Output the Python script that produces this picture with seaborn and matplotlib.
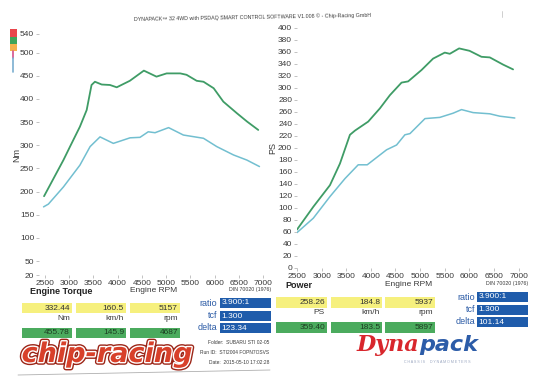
import matplotlib
matplotlib.use("Agg")
import matplotlib.pyplot as plt
import matplotlib.patheffects as pe
from matplotlib.patches import Rectangle
import seaborn as sns
import pandas as pd

# ---------------- data ----------------
torque_run2_rpm = [2480, 2880, 3016, 3220, 3360, 3460, 3530, 3670, 3840, 3980, 4250, 4540,
                   4800, 5010, 5290, 5420, 5630, 5770, 5980, 6180, 6460, 6670, 6900]
torque_run2_nm = [190, 268, 297, 340, 376, 430, 437, 431, 430, 425, 439, 461,
                  448, 455, 455, 452, 439, 437, 423, 394, 369, 351, 333]
torque_run1_rpm = [2470, 2570, 2880, 3220, 3430, 3635, 3910, 4255, 4460, 4630, 4770, 5050,
                   5355, 5770, 6045, 6390, 6665, 6925]
torque_run1_nm = [167, 173, 210, 257, 297, 318, 304, 316, 317, 329, 327, 338,
                  322, 315, 297, 279, 268, 254]

power_run2_rpm = [2500, 2831, 3169, 3372, 3575, 3677, 3946, 4183, 4386, 4623, 4757, 5029,
                  5264, 5501, 5603, 5792, 6003, 6246, 6415, 6685, 6888]
power_run2_ps = [64, 102, 138, 174, 222, 229, 244, 266, 288, 309, 311, 330,
                 349, 359, 357, 366, 362, 352, 351, 339, 331]
power_run1_rpm = [2500, 2831, 3169, 3474, 3743, 3926, 4319, 4522, 4691, 4794, 5099, 5400,
                  5670, 5841, 6076, 6415, 6618, 6923]
power_run1_ps = [59, 83, 119, 149, 172, 172, 197, 205, 222, 224, 249, 251,
                 258, 264, 259, 257, 253, 250]

rpm_ticks = [2500, 3000, 3500, 4000, 4500, 5000, 5500, 6000, 6500, 7000]
torque_ticks = [20, 50, 100, 150, 200, 250, 300, 350, 400, 450, 500, 540]
power_ticks = list(range(0, 401, 20))

title_text = "DYNAPACK\u2122 32 4WD with PSDAQ SMART CONTROL SOFTWARE V1.008 \u00a9 - Chip-Racing GmbH"
torque_peak1 = ["332.44", "160.5", "5157"]
torque_peak2 = ["455.78", "145.9", "4687"]
torque_units = ["Nm", "km/h", "rpm"]
power_peak1 = ["258.26", "184.8", "5937"]
power_peak2 = ["359.40", "183.5", "5897"]
power_units = ["PS", "km/h", "rpm"]
torque_params = [("ratio", "3.900:1"), ("tcf", "1.300"), ("delta", "123.34")]
power_params = [("ratio", "3.900:1"), ("tcf", "1.300"), ("delta", "101.14")]
run_info = ["Folder:  SUBARU STI 02-05", "Run ID:  STI2004 FOPN7OSVS", "Date:  2015-05-10 17:02:28"]

# ---------------- style ----------------
sns.set_theme(style="white")
plt.rcParams["font.family"] = ["Liberation Sans", "DejaVu Sans"]

GREEN = "#3f9c66"
TEAL = "#72bfd0"
YELLOW = "#f6f07e"
BOXGREEN = "#4bab5e"
BLUE = "#1f5cab"
TXT = "#3a3a3a"

W, H = 543, 384
fig = plt.figure(figsize=(W / 100, H / 100), dpi=100)
fig.patch.set_facecolor("white")

# overlay in pixel coordinates for the printed sheet decorations
ov = fig.add_axes([0, 0, 1, 1])
ov.set_xlim(0, W)
ov.set_ylim(H, 0)
ov.axis("off")
ov.patch.set_alpha(0)


def px_axes(x0, x1, y0, y1):
    return fig.add_axes([x0 / W, 1 - y1 / H, (x1 - x0) / W, (y1 - y0) / H])


def style_axes(ax, yticks, ylabel, labx):
    ax.set_facecolor("none")
    for s in ax.spines.values():
        s.set_visible(False)
    ax.set_xticks(rpm_ticks)
    ax.set_yticks(yticks)
    ax.tick_params(axis="both", labelsize=6, colors="#aaaaaa", labelcolor=TXT,
                   length=2.5, width=0.5, pad=1, left=True, bottom=True)
    ax.set_xlabel("")
    ax.set_ylabel(ylabel, fontsize=6.5, color=TXT)
    ax.yaxis.set_label_coords(labx, 0.5)
    ax.grid(False)


# ---- torque chart ----
axT = px_axes(39, 266, 34, 275)
dT2 = pd.DataFrame({"rpm": torque_run2_rpm, "val": torque_run2_nm})
dT1 = pd.DataFrame({"rpm": torque_run1_rpm, "val": torque_run1_nm})
sns.lineplot(data=dT2, x="rpm", y="val", ax=axT, color=GREEN, linewidth=1.3, estimator=None)
sns.lineplot(data=dT1, x="rpm", y="val", ax=axT, color=TEAL, linewidth=1.1, estimator=None)
axT.set_xlim(2376, 7060)
axT.set_ylim(20, 540)
style_axes(axT, torque_ticks, "Nm", -0.078)

# ---- power chart ----
axP = px_axes(297, 525, 28, 268)
dP2 = pd.DataFrame({"rpm": power_run2_rpm, "val": power_run2_ps})
dP1 = pd.DataFrame({"rpm": power_run1_rpm, "val": power_run1_ps})
sns.lineplot(data=dP2, x="rpm", y="val", ax=axP, color=GREEN, linewidth=1.3, estimator=None)
sns.lineplot(data=dP1, x="rpm", y="val", ax=axP, color=TEAL, linewidth=1.1, estimator=None)
axP.set_xlim(2500, 7130)
axP.set_ylim(0, 400)
style_axes(axP, power_ticks, "PS", -0.088)

# ---- header ----
ov.text(252, 17, title_text, fontsize=3.8, color=TXT, ha="center", va="center", rotation=1)
for (y0, y1, c) in [(29, 37, "#e9464c"), (37, 44, "#3fa55a"), (44, 51, "#f4b24c")]:
    ov.add_patch(Rectangle((10, y0), 6.5, y1 - y0, color=c, lw=0))
ov.plot([12.5, 12.5], [51, 58], color="#d44f8a", lw=1.2)
ov.plot([12.5, 12.5], [58, 72], color="#7aaed0", lw=1.2)
ov.plot([502, 502], [11, 17], color="#c8c8c8", lw=0.6)

# ---- panel captions ----
ov.text(30, 292, "Engine Torque", fontsize=6.5, fontweight="bold", color="#222222", va="center")
ov.text(154, 290, "Engine RPM", fontsize=6, color=TXT, ha="center", va="center")
ov.text(271, 289, "DIN 70020 (1976)", fontsize=3.8, color=TXT, ha="right", va="center")
ov.text(285, 286, "Power", fontsize=6.5, fontweight="bold", color="#222222", va="center")
ov.text(409, 284, "Engine RPM", fontsize=6, color=TXT, ha="center", va="center")
ov.text(528, 283, "DIN 70020 (1976)", fontsize=3.8, color=TXT, ha="right", va="center")


def value_block(xs, row1, units, row2, y_top, y_unit, y_bot, h):
    for (x0, x1), v1, u, v2 in zip(xs, row1, units, row2):
        ov.add_patch(Rectangle((x0, y_top), x1 - x0, h, color=YELLOW, lw=0))
        ov.text(x1 - 2, y_top + h / 2, v1, fontsize=6, color="#333333", ha="right", va="center")
        ov.text(x1 - 2, y_unit, u, fontsize=6, color=TXT, ha="right", va="center")
        ov.add_patch(Rectangle((x0, y_bot), x1 - x0, h, color=BOXGREEN, lw=0))
        ov.text(x1 - 2, y_bot + h / 2, v2, fontsize=6, color="#1d3d22", ha="right", va="center")


def param_block(xlab, x0, x1, ys, params, h):
    for y, (lab, val) in zip(ys, params):
        ov.text(xlab, y + h / 2, lab, fontsize=6.5, color="#2a5aa5", ha="right", va="center")
        ov.add_patch(Rectangle((x0, y), x1 - x0, h, color=BLUE, lw=0))
        ov.text(x0 + 1.5, y + h / 2, val, fontsize=6, color="white", ha="left", va="center")


value_block([(22, 72), (76, 126), (130, 180)], torque_peak1, torque_units, torque_peak2,
            303, 319, 328, 10)
param_block(217, 220, 271, [298, 311, 323], torque_params, 10)
value_block([(276, 327), (331, 382), (385, 435)], power_peak1, power_units, power_peak2,
            297, 313, 322, 10.5)
param_block(475, 477, 528, [292, 304.5, 317], power_params, 10)

for y, t in zip([342, 352.5, 363], run_info):
    ov.text(269, y, t, fontsize=3.5, color=TXT, ha="right", va="center")

# ---- logos ----
ov.text(107, 355, "chip-racing", fontsize=19.5, fontweight="bold", fontstyle="italic",
        family="DejaVu Sans", color="#d8402a", ha="center", va="center",
        path_effects=[pe.Stroke(linewidth=4, foreground="#9c2618"),
                      pe.Stroke(linewidth=2, foreground="white"), pe.Normal()])
ov.plot([18, 270], [375, 370], color="#b0b0b0", lw=0.6)
ov.text(419, 351, "Dyna", fontsize=16, fontweight="bold", fontstyle="italic",
        family="DejaVu Serif", color="#d8262c", ha="right", va="baseline")
ov.text(419, 351, "pack", fontsize=16, fontweight="bold", fontstyle="italic",
        family="DejaVu Sans", color="#2c5ca8", ha="left", va="baseline")
ov.text(437, 362, "C H A S S I S     D Y N A M O M E T E R S", fontsize=2.6,
        color="#9aa6c0", ha="center", va="center")

fig.savefig("out.png", dpi=100)
